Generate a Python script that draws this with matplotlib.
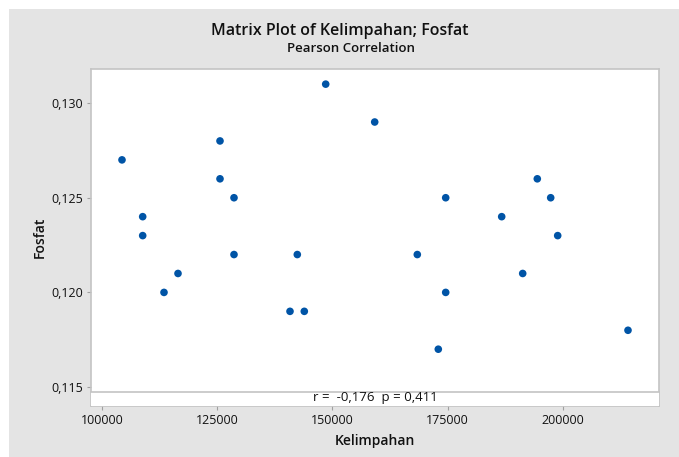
import matplotlib

matplotlib.use("Agg")

import matplotlib.pyplot as plt
from matplotlib.patches import Rectangle
from matplotlib.ticker import FuncFormatter

plt.rcParams["font.family"] = ["Open Sans", "DejaVu Sans"]

# data
kelimpahan = [104340, 108830, 108830, 113455, 116493, 125608, 125608, 128646,
              128646, 140799, 142383, 143902, 148546, 159180, 168425, 172982,
              174588, 174588, 186740, 191298, 194466, 197374, 198893, 214149]
fosfat = [0.127, 0.124, 0.123, 0.120, 0.121, 0.128, 0.126, 0.125,
          0.122, 0.119, 0.122, 0.119, 0.131, 0.129, 0.122, 0.117,
          0.125, 0.120, 0.124, 0.121, 0.126, 0.125, 0.123, 0.118]
x_ticks = [100000, 125000, 150000, 175000, 200000]
y_ticks = [0.115, 0.120, 0.125, 0.130]
r_value = -0.176
p_value = 0.411

BG = "#e4e4e4"
EDGE = "#c4c4c4"
DOT = "#0054a6"
TXT = "#111111"

W, H = 679, 457
fig = plt.figure(figsize=(W / 100, H / 100), dpi=100)
fig.patch.set_facecolor("white")
# gray panel (white margin at top/left as in the screenshot)
fig.patches.append(Rectangle((9 / W, 0), 1 - 9 / W, 1 - 9 / H,
                             transform=fig.transFigure, facecolor=BG,
                             edgecolor="none", zorder=-10))

ax = fig.add_axes([91 / W, 1 - 406 / H, (659 - 91) / W, (406 - 69) / H])
ax.set_facecolor("white")
ax.scatter(kelimpahan, fosfat, s=30, color=DOT, edgecolors="none", zorder=3)

ax.set_xlim(97613, 220877)
ax.set_ylim(0.11400, 0.13180)
ax.set_xticks(x_ticks)
ax.set_yticks(y_ticks)
ax.xaxis.set_major_formatter(FuncFormatter(lambda v, _: f"{v:.0f}"))
ax.yaxis.set_major_formatter(FuncFormatter(lambda v, _: f"{v:.3f}".replace(".", ",")))
ax.tick_params(length=3, width=0.8, color="#a0a0a0", labelsize=9,
               labelcolor=TXT, pad=3)
for sp in ax.spines.values():
    sp.set_color(EDGE)
    sp.set_linewidth(1.2)

# footer strip with correlation text
foot_h = (406 - 392) / (406 - 69)
ax.add_patch(Rectangle((0, 0), 1, foot_h, transform=ax.transAxes,
                       facecolor="white", edgecolor="none", zorder=4))
ax.plot([0, 1], [foot_h, foot_h], transform=ax.transAxes, color=EDGE,
        lw=1.2, zorder=5, clip_on=False)
ax.text(0.5, foot_h / 2 + 0.003,
        f"r =  {r_value:.3f}  p = {p_value:.3f}".replace(".", ","),
        transform=ax.transAxes, ha="center", va="center", fontsize=9.5,
        color=TXT, zorder=6)

ax.set_xlabel("Kelimpahan", fontsize=10, color=TXT, labelpad=5,
              fontweight="semibold")
ax.set_ylabel("Fosfat", fontsize=10, color=TXT, labelpad=3,
              fontweight="semibold")

fig.text(340 / W, 1 - 31 / H, "Matrix Plot of Kelimpahan; Fosfat",
         ha="center", va="center", fontsize=11.5, color=TXT,
         fontweight="semibold")
fig.text(351 / W, 1 - 49 / H, "Pearson Correlation",
         ha="center", va="center", fontsize=9.5, color=TXT,
         fontweight="semibold")

fig.savefig("out.png", dpi=100)
